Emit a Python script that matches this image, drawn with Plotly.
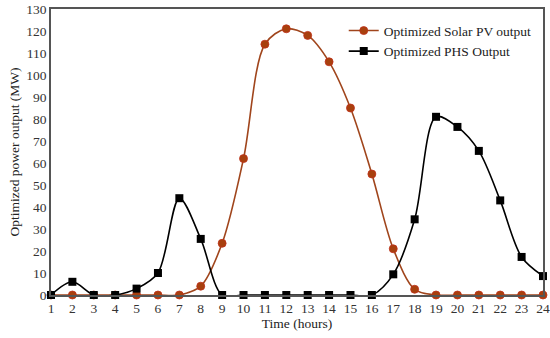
import plotly.graph_objects as go

hours = list(range(1, 25))
solar_pv = [0, 0, 0, 0, 0, 0, 0, 4, 23.5, 62, 114, 121, 118, 106, 85, 55, 21, 2.6, 0, 0, 0, 0, 0, 0]
phs = [0, 6, 0, 0, 2.9, 10, 44, 25.5, 0, 0, 0, 0, 0, 0, 0, 0, 9.4, 34.4, 81, 76.4, 65.5, 43, 17.3, 8.6]
y_ticks = list(range(0, 131, 10))

FONT = "Liberation Serif, Times New Roman, serif"

fig = go.Figure()
fig.add_trace(go.Scatter(
    x=hours, y=solar_pv, name="Optimized Solar PV output",
    mode="lines+markers", line=dict(color="#A0451C", width=1.6, shape="spline", smoothing=0.9),
    marker=dict(symbol="circle", size=8, color="#A8400E", line=dict(color="#C0301A", width=0.8)),
    cliponaxis=False,
))
fig.add_trace(go.Scatter(
    x=hours, y=phs, name="Optimized PHS Output",
    mode="lines+markers", line=dict(color="#000000", width=1.6, shape="spline", smoothing=0.9),
    marker=dict(symbol="square", size=8, color="#000000"),
    cliponaxis=False,
))

fig.update_layout(
    width=550, height=338,
    margin=dict(l=51, r=7, t=9, b=43),
    paper_bgcolor="white", plot_bgcolor="white",
    font=dict(family=FONT, size=13, color="#222222"),
    showlegend=True,
    legend=dict(x=0.595, y=0.978, xanchor="left", yanchor="top",
                bgcolor="rgba(0,0,0,0)", font=dict(size=13.5, family=FONT, color="#222222"),
                itemwidth=30, tracegroupgap=0),
    xaxis=dict(
        range=[1, 24], tickmode="array", tickvals=hours, ticktext=[str(h) for h in hours],
        showgrid=False, zeroline=False, showline=True, linecolor="#555555", linewidth=1.5,
        mirror=True, ticks="", automargin=False,
        tickfont=dict(size=13.5, family=FONT, color="#333333"),
        title=dict(text="Time (hours)", font=dict(size=13.5, family=FONT, color="#222222"), standoff=2),
    ),
    yaxis=dict(
        range=[0, 130], tickmode="array", tickvals=y_ticks,
        showgrid=False, zeroline=False, showline=True, linecolor="#555555", linewidth=1.5,
        mirror=True, ticks="", automargin=False,
        tickfont=dict(size=13.5, family=FONT, color="#333333"),
        title=dict(text="Optimized power output (MW)", font=dict(size=13.5, family=FONT, color="#222222"), standoff=4),
    ),
)

fig.write_html("out.html", config={"displayModeBar": False},
               post_script="document.body.style.margin='0';")
